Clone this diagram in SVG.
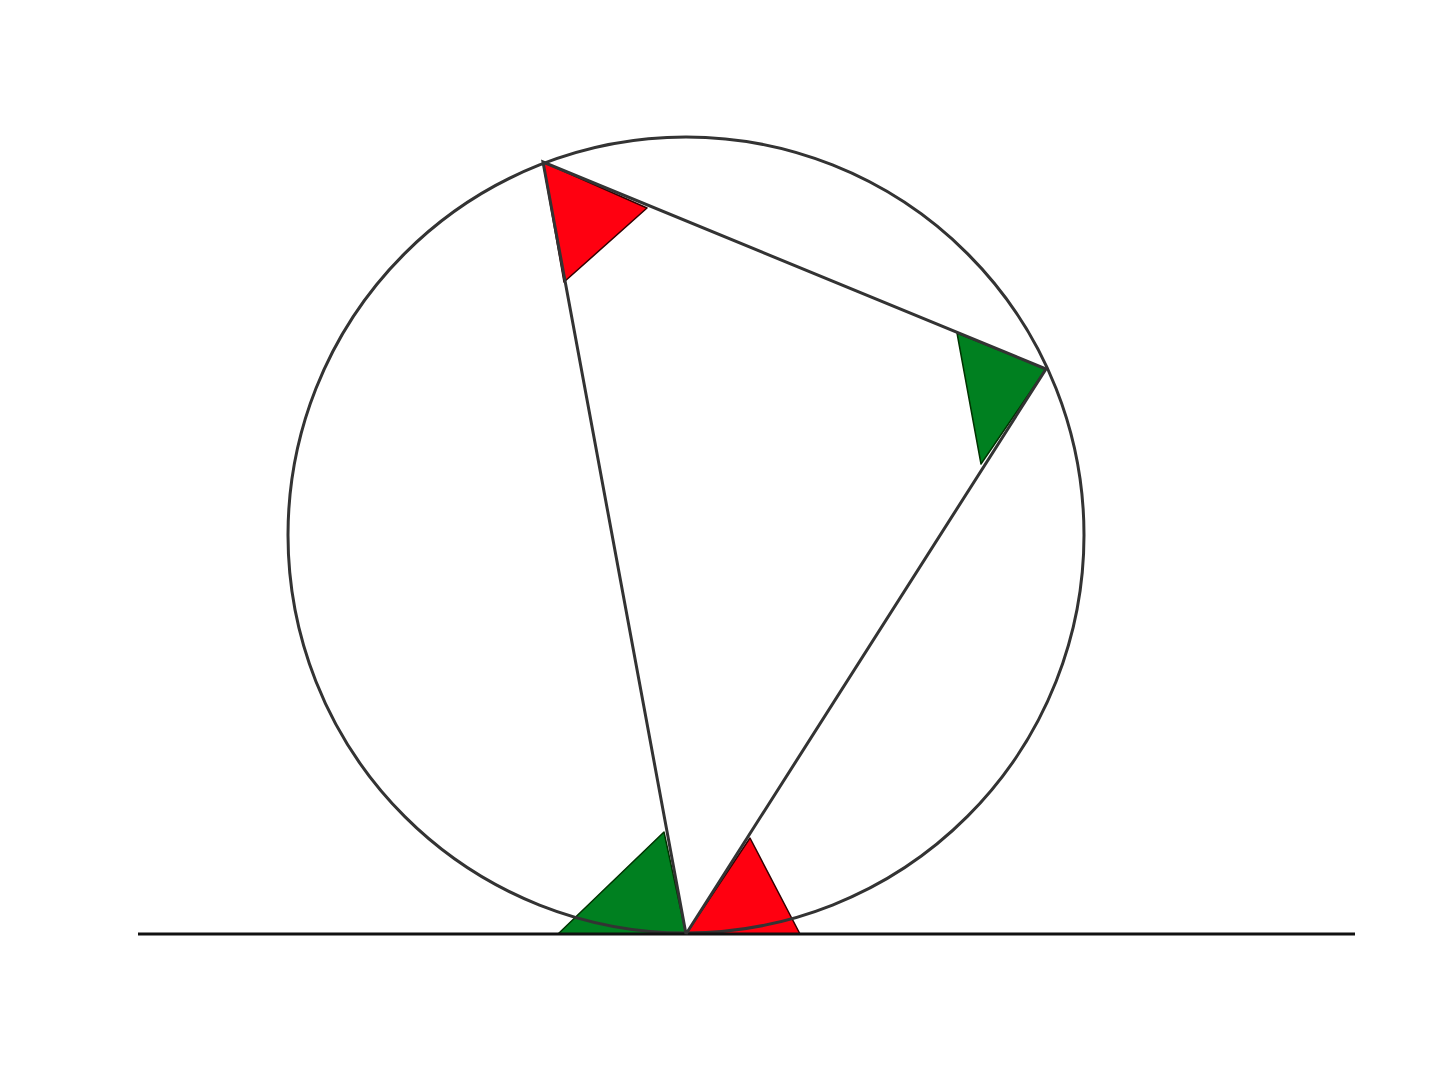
<svg xmlns="http://www.w3.org/2000/svg" width="1440" height="1083" viewBox="0 0 1440 1083">
<style>
.ln{fill:none;stroke:#333;stroke-width:3}
.red{fill:#ff0010;stroke:#300;stroke-width:1.5;stroke-linejoin:round}
.green{fill:#008020;stroke:#030;stroke-width:1.5;stroke-linejoin:round}
</style>
<rect width="1440" height="1083" fill="#fff"/>
<g id="angles">
<polygon class="red" points="543,162 647,208 564,282"/>
<polygon class="green" points="1046,369 957,333 981,464"/>
<polygon class="green" points="686,934 558,934 664,832"/>
<polygon class="red" points="686,934 750,838 800,934"/>
</g>
<g id="circle">
<circle class="ln" cx="686" cy="535" r="398"/>
</g>
<g id="connectors">
<line class="ln" x1="138" y1="934" x2="1355" y2="934" style="stroke:#111"/>
<polyline class="ln" points="686,934 543,162 1046,369 686,934"/>
</g>
</svg>
